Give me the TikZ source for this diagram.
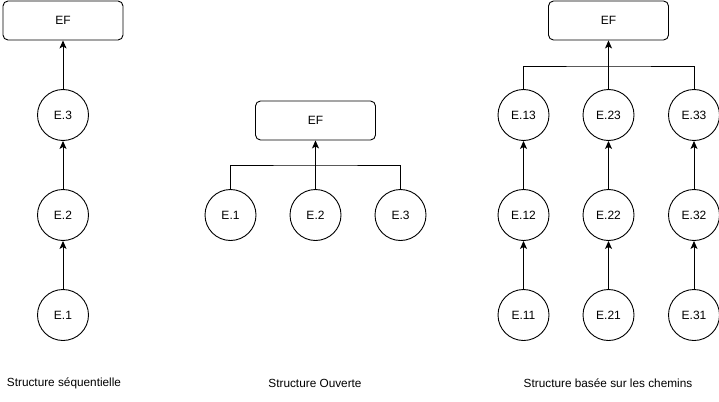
\documentclass[tikz,border=0pt]{standalone}
\usepackage{fontspec}
\setmainfont{Liberation Sans}
\usetikzlibrary{arrows.meta}
\begin{document}
\begin{tikzpicture}[x=1pt,y=-1pt,
  efbox/.style={draw,rounded corners=5pt,minimum width=120pt,minimum height=39pt,inner sep=0pt,line width=0.9pt,font=\fontsize{12}{14}\selectfont},
  evt/.style={draw,circle,minimum size=51pt,inner sep=0pt,line width=0.9pt,font=\fontsize{12}{14}\selectfont},
  conn/.style={line width=0.9pt},
  arr/.style={conn,-{Stealth[length=8pt,width=7pt,inset=2pt]}},
  captext/.style={font=\fontsize{11.8}{13}\selectfont,inner sep=0pt}]
\useasboundingbox (0,0) rectangle (719,401);
% sequential
\node[efbox] (aef) at (63,20.5) {EF};
\node[evt] (a3) at (63,115) {E.3};
\node[evt] (a2) at (63,215) {E.2};
\node[evt] (a1) at (63,315) {E.1};
\draw[arr] (a1) -- (a2);
\draw[arr] (a2) -- (a3);
\draw[arr] (a3) -- (aef);
\node[captext] (acap) at (64,383) {Structure séquentielle};
% open
\node[efbox] (bef) at (315.5,120.5) {EF};
\node[evt] (b1) at (230.5,215) {E.1};
\node[evt] (b2) at (315.5,215) {E.2};
\node[evt] (b3) at (400.5,215) {E.3};
\coordinate (bbus) at (315.5,165);
\draw[conn] (b1.north) |- (bbus) -| (b3.north);
\draw[arr] (b2.north) -- (bef.south);
\node[captext] (bcap) at (315,383) {Structure Ouverte};
% paths
\node[efbox] (cef) at (608.5,20.5) {EF};
\foreach \c/\x in {1/523.5,2/608.5,3/694}{
  \node[evt] (c\c3) at (\x,115) {E.\c3};
  \node[evt] (c\c2) at (\x,215) {E.\c2};
  \node[evt] (c\c1) at (\x,315) {E.\c1};
  \draw[arr] (c\c1) -- (c\c2);
  \draw[arr] (c\c2) -- (c\c3);
}
\coordinate (cbus) at (608.5,66);
\draw[conn] (c13.north) |- (cbus) -| (c33.north);
\draw[arr] (c23.north) -- (cef.south);
\node[captext] (ccap) at (608,383) {Structure basée sur les chemins};
\end{tikzpicture}
\end{document}
